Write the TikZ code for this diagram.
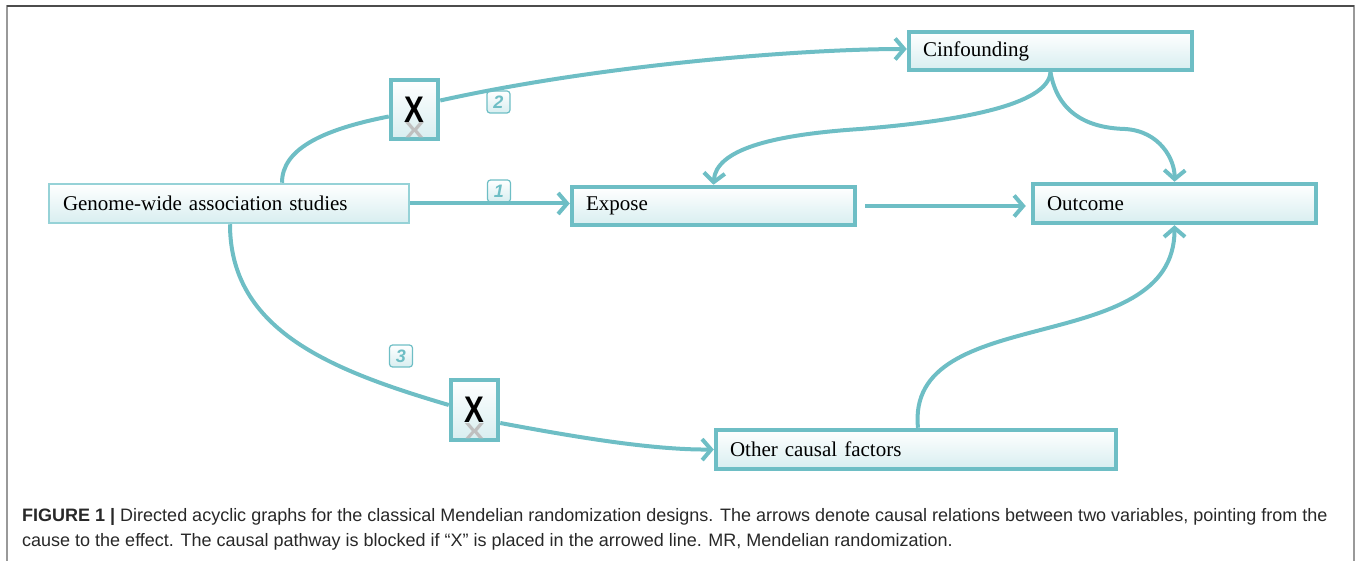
\documentclass[tikz,border=0pt]{standalone}
\usepackage{fontspec}
\setmainfont{Liberation Serif}
\newfontfamily\capfont{Liberation Sans}
\usetikzlibrary{arrows.meta,calc}
\definecolor{teal1}{RGB}{110,190,197}
\definecolor{teal2}{RGB}{150,210,215}
\definecolor{boxbot}{RGB}{216,238,240}
\definecolor{capgray}{RGB}{40,40,40}
\begin{document}
\begin{tikzpicture}[x=1pt,y=1pt,
  varbox/.style={draw=teal1, line width=4.5pt, top color=white, bottom color=boxbot,
    minimum height=38pt, inner xsep=14pt, inner ysep=0pt, text width=#1, align=left,
    font=\fontsize{21}{21}\selectfont, anchor=center},
  xbox/.style={draw=teal1, line width=4.5pt, top color=white, bottom color=boxbot,
    minimum width=47pt, minimum height=59pt, inner sep=0pt,
    font=\capfont\bfseries\fontsize{37}{37}\selectfont},
  xrefl/.style={inner sep=0pt, anchor=center, text=black!25, xscale=0.8, yscale=-0.6,
    transform shape, font=\capfont\bfseries\fontsize{37}{37}\selectfont},
  numlab/.style={draw=teal1, line width=1.2pt, rounded corners=3pt, top color=white,
    bottom color=boxbot, minimum width=23pt, minimum height=22pt, inner sep=0pt,
    text=teal1, font=\capfont\bfseries\itshape\fontsize{18}{18}\selectfont},
  link/.style={draw=teal1, line width=4pt},
  conn/.style={link, -{Straight Barb[length=9pt,width=21pt]}},
  capline/.style={anchor=base west, inner sep=0pt, text=capgray,
    font=\capfont\fontsize{18}{18}\selectfont}
]
\useasboundingbox (0,0) rectangle (1358,-561);
% frame
\draw[gray!80, line width=1.2pt] (7,-561) -- (7,-6) -- (1354,-6) -- (1354,-561);
\draw[black!70, line width=1.6pt] (7,-6) -- (1354,-6);

% nodes
\node[varbox=332pt, draw=teal2, line width=2.5pt, minimum height=39pt] (gwas) at (229,-203.5) {Genome-wide association studies};
\node[varbox=255pt] (expose) at (713.5,-206) {Expose};
\node[varbox=255pt] (cinf) at (1050.5,-51) {Cinfounding};
\node[varbox=255pt, minimum height=39pt] (outcome) at (1174.5,-203.5) {Outcome};
\node[varbox=372pt, minimum height=39pt] (other) at (916,-449.5) {Other causal factors};

\node[xbox] (x1) at (414.5,-109.5) {\scalebox{0.8}[1]{X}};
\node[xbox, minimum height=60pt] (x2) at (474.5,-410) {\scalebox{0.8}[1]{X}};
\node[xrefl] (x1r) at ($(x1.center)+(0,-21)$) {X};
\node[xrefl] (x2r) at ($(x2.center)+(0,-21)$) {X};

\node[numlab] (n2) at (498.5,-102) {2};
\node[numlab] (n1) at (499,-191) {1};
\node[numlab] (n3) at (401,-356) {3};

% connectors
\draw[conn] (gwas.east) -- (gwas.east -| expose.west);
\draw[conn, shorten <=8pt, shorten >=5pt] (expose.east) -- (expose.east -| outcome.west);
\draw[link] ($(gwas.north)+(53,0)$) .. controls (282,-150) and (320,-130) .. ($(x1.west)+(0,-7)$);
\draw[conn] ($(x1.east)+(0,9)$) .. controls (600,-65) and (800,-49) .. ($(cinf.west)+(0,2)$);
\draw[conn] (cinf.south) .. controls (1048,-105) and (960,-121) .. (860,-129)
   .. controls (770,-135) and (716,-150) .. (expose.north);
\draw[conn] (cinf.south) .. controls (1058,-115) and (1090,-128) .. (1125,-129)
   .. controls (1160,-131) and (1175,-160) .. (outcome.north);
\draw[conn] ($(other.north)+(2,0)$) .. controls (905,-300) and (1175,-360) .. (outcome.south);
\draw[link] ($(gwas.south)+(1,0)$) .. controls (230,-330) and (330,-370) .. ($(x2.west)+(0,5)$);
\draw[conn] ($(x2.east)+(0,-13)$) .. controls (570,-436) and (650,-450) .. (other.west);

% caption
\node[capline] (cap1) at (22,-521) {\textbf{FIGURE 1 |} Directed acyclic graphs for the classical Mendelian randomization designs. The arrows denote causal relations between two variables, pointing from the};
\node[capline] (cap2) at (22,-546) {cause to the effect. The causal pathway is blocked if “X” is placed in the arrowed line. MR, Mendelian randomization.};
\end{tikzpicture}
\end{document}
